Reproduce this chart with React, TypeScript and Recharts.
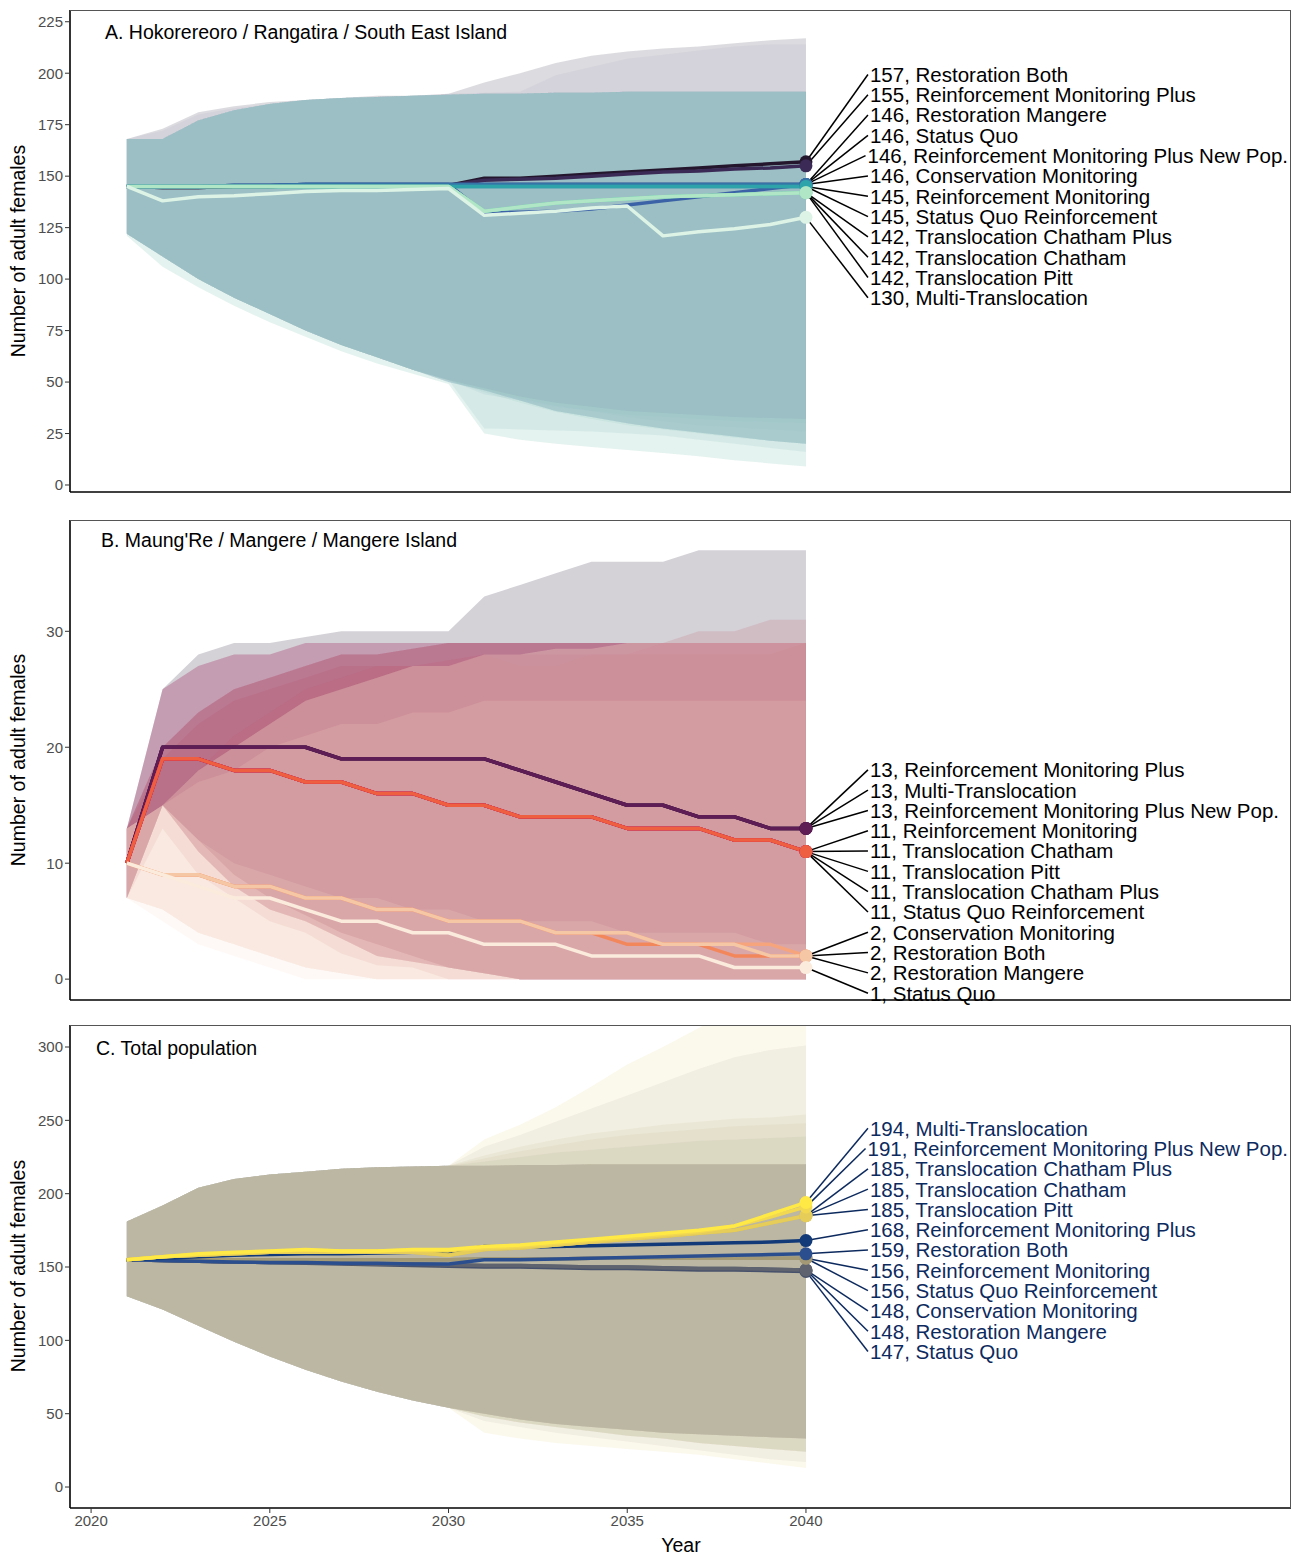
import React from 'react'
import { ComposedChart, Area, Line, XAxis, YAxis, ReferenceDot, ReferenceLine } from 'recharts'

const FONT = '"Liberation Sans", Arial, Helvetica, sans-serif'

const YEARS = [2021, 2022, 2023, 2024, 2025, 2026, 2027, 2028, 2029, 2030, 2031, 2032, 2033, 2034, 2035, 2036, 2037, 2038, 2039, 2040]
const X_TICKS = [2020, 2025, 2030, 2035, 2040]

// ---- A. Hokorereoro / Rangatira / South East Island ----
const aRbMed = [145, 144.5, 144.5, 145, 145, 145.5, 145.5, 145.5, 145.5, 145.5, 149, 149, 150, 151, 152, 153, 154, 155, 156, 157]
const aRmpMed = [145, 144.5, 144.5, 145, 145, 145.5, 145.5, 145.5, 145.5, 145.5, 148, 148.5, 149, 150, 151, 152, 152.5, 153.5, 154, 155]
const aFlat146Med = [145, 145, 145, 145.5, 145.5, 146, 146, 146, 146, 146, 146, 146, 146, 146, 146, 146, 146, 146, 146, 146]
const aRmpnpMed = [145, 145, 145, 145.5, 145.5, 146, 146, 146, 146, 146, 132, 132.5, 133, 134, 136, 138, 140, 142, 144, 146]
const aFlat145Med = [145, 145, 145, 145, 145, 145, 145, 145, 145, 145, 145, 145, 145, 145, 145, 145, 145, 145, 145, 145]
const aTransMed = [145, 145, 145, 145, 145, 145, 145, 145, 145, 145, 133, 135, 137, 138, 139, 140, 140.5, 141, 141.5, 142]
const aMtMed = [145, 138, 140, 140.5, 141.5, 142.5, 143, 143, 143.5, 144, 131, 132, 133, 134.5, 135.5, 121, 123, 124.5, 126.5, 130]

const aBaseHi = [168, 168, 177, 182, 185, 187, 188, 188.5, 189, 189.5, 190, 190, 190.5, 190.5, 191, 191, 191, 191, 191, 191]
const aRbHi = [168, 173, 181, 184, 186, 187, 188, 189, 189, 190, 195.5, 200, 205, 208.5, 210.5, 212, 213, 214.5, 216, 217]
const aRmpHi = [168, 172, 180, 183, 185, 187, 188, 188.5, 189, 190, 190.5, 191, 199, 203, 207, 209, 211, 213, 214, 214]
const aPlusLo = [122, 111, 100, 91, 83, 75, 68, 62, 56, 51, 47, 43, 40, 38, 36, 35, 34, 33, 32.5, 32]
const aBaseLo = [122, 111, 100, 91, 83, 75, 68, 62, 56, 50, 46, 41, 36, 33, 30, 27.5, 25.5, 23.5, 21.5, 20]
const aMtLo = [121, 106, 96, 87, 79, 72, 65, 59, 54, 49, 25, 22, 20, 18.5, 17, 15.5, 14, 12, 10.5, 9]
const aTcpLo = [122, 111, 100, 91, 83, 75, 68, 62, 56, 51, 27.5, 27, 26.5, 26, 25, 24, 22, 20, 18, 16]
const aTcLo = [122, 111, 100, 91, 83, 75, 68, 62, 56, 51, 45, 40, 35.5, 32, 29, 27, 25, 23, 21.5, 20]
const aTpLo = [122, 111, 100, 91, 83, 75, 68, 62, 56, 51, 46, 42, 38.5, 36, 33, 31, 29, 28, 27, 26]
const aRmpnpLo = [122, 111, 100, 91, 83, 75, 68, 62, 56, 51, 44, 41, 38, 36, 34, 33, 32, 31, 30.5, 30]

// ---- B. Maung'Re / Mangere / Mangere Island ----
const bMed13 = [10, 20, 20, 20, 20, 20, 19, 19, 19, 19, 19, 18, 17, 16, 15, 15, 14, 14, 13, 13]
const bMed11 = [10, 19, 19, 18, 18, 17, 17, 16, 16, 15, 15, 14, 14, 14, 13, 13, 13, 12, 12, 11]
const bCmMed = [10, 9, 9, 8, 8, 7, 7, 6, 6, 5, 5, 5, 4, 4, 3, 3, 3, 2, 2, 2]
const bRbMed = [10, 9, 9, 8, 8, 7, 7, 6, 6, 5, 5, 5, 4, 4, 4, 3, 3, 3, 3, 2]
const bRmanMed = [10, 9, 9, 8, 8, 7, 7, 6, 6, 5, 5, 5, 4, 4, 4, 3, 3, 3, 2, 2]
const bSqMed = [10, 9, 8, 7, 7, 6, 5, 5, 4, 4, 3, 3, 3, 2, 2, 2, 2, 1, 1, 1]

const bRmpHi = [13, 25, 28, 29, 29, 29.5, 30, 30, 30, 30, 33, 34, 35, 36, 36, 36, 37, 37, 37, 37]
const b13Hi = [13, 25, 27, 28, 28, 29, 29, 29, 29, 29, 29, 29, 29, 29, 29, 29, 29, 29, 29, 29]
const b11Hi = [13, 20, 23, 25, 26, 27, 28, 28, 28.5, 29, 29, 29, 29, 29, 29, 29, 29, 29, 29, 29]
const bTcpHi = [13, 15, 18, 21, 23, 25, 26, 27, 27, 27.5, 28, 27, 27, 28, 28, 29, 30, 30, 31, 31]
const bTpHi = [13, 19, 22, 24, 25, 26, 27, 27, 27, 27, 28, 28, 28, 28, 28, 28, 28, 28, 28, 29]
const b2Hi = [13, 15, 17, 18, 20, 21, 22, 22, 23, 23, 24, 24, 24, 24, 24, 24, 24, 24, 24, 24]
const b2HighHi = [13, 15, 18, 20, 22, 24, 25, 26, 27, 27, 28, 28, 28.5, 28.5, 29, 29, 29, 29, 29, 29]
const bSqHi = [13, 15, 12, 10, 9, 8, 7, 7, 6, 6, 5, 5, 5, 5, 4, 4, 4, 4, 3, 3]
const b13Lo = [7, 15, 12, 9, 7, 5.5, 4, 3, 2, 1, 0.5, 0, 0, 0, 0, 0, 0, 0, 0, 0]
const b11Lo = [7, 15, 11, 8, 6, 5, 3.5, 2, 1.5, 1, 0.5, 0, 0, 0, 0, 0, 0, 0, 0, 0]
const bTcpLo = [7, 13, 9, 7, 5, 4, 2.2, 1.2, 1, 0, 0, 0, 0, 0, 0, 0, 0, 0, 0, 0]
const b2Lo = [7, 6, 4, 3, 2, 1, 0.5, 0, 0, 0, 0, 0, 0, 0, 0, 0, 0, 0, 0, 0]
const bSqLo = [7, 5, 3, 2, 1, 0, 0, 0, 0, 0, 0, 0, 0, 0, 0, 0, 0, 0, 0, 0]

// ---- C. Total population ----
const cMtMed = [155, 157, 159, 160, 161, 162, 161, 161, 162, 162, 164, 165, 167, 169, 171, 173, 175, 178, 186, 194]
const cRmpnpMed = [155, 157, 158.5, 159.5, 160.5, 161.5, 161, 161, 161.5, 161, 163, 164, 166, 168, 170, 172, 174, 178, 184, 191]
const cTransMed = [155, 157, 158, 159, 160, 160, 160, 160, 160, 158, 162, 163, 165, 167, 169, 171, 173, 175, 180, 185]
const cRmpMed = [155, 156, 157, 158, 158.5, 159, 159, 159.5, 160, 160, 164, 163.5, 164, 164.5, 165, 165.5, 166, 166.5, 167, 168]
const cRbMed = [155, 154.5, 154, 153.5, 153, 153, 152.5, 152.5, 152, 152, 155, 155, 155.5, 156, 156.5, 157, 157.5, 158, 158.5, 159]
const cFlat156Med = [155, 155, 155, 155, 155, 155, 155, 155, 155, 155, 155.5, 155.5, 155.5, 156, 156, 156, 156, 156, 156, 156]
const cDecline148Med = [155, 154.5, 154, 153.5, 153, 153, 152.5, 152, 152, 151.5, 151, 151, 150.5, 150, 150, 149.5, 149, 149, 148.5, 148]
const cSqMed = [155, 154.5, 154, 153.5, 153, 152.5, 152, 151.5, 151, 150.5, 150, 150, 149.5, 149, 149, 148.5, 148, 148, 147.5, 147]

const cBaseHi = [181, 192, 204, 210, 213, 215, 217, 218, 218.5, 219, 219, 219.5, 219.5, 220, 220, 220, 220, 220, 220, 220]
const cBaseLo = [130, 121, 110, 99, 89, 80, 72, 65, 59, 54, 50, 46, 43, 41, 39, 37, 36, 35, 34, 33]
const cMtHi = [181, 192, 204, 210, 213, 215, 217, 218, 218.5, 219, 237, 247, 259, 273, 288, 300, 313, 327, 340, 352]
const cRmpnpHi = [181, 192, 204, 210, 213, 215, 217, 218, 218.5, 219, 232, 240, 249, 258, 267, 276, 285, 293, 298, 301]
const cTcpHi = [181, 192, 204, 210, 213, 215, 217, 218, 218.5, 219, 226, 232, 237, 241, 244, 247, 249, 251, 252, 254]
const cTcHi = [181, 192, 204, 210, 213, 215, 217, 218, 218.5, 219, 224, 229, 233, 237, 240, 242, 244, 246, 247, 248]
const cTpHi = [181, 192, 204, 210, 213, 215, 217, 218, 218.5, 219, 222, 225, 228, 230, 232, 234, 236, 237, 238, 239]
const cMtLo = [130, 121, 110, 99, 89, 80, 72, 65, 59, 54, 37, 33, 30, 28, 26, 24, 22, 19, 16, 13]
const cRmpnpLo = [130, 121, 110, 99, 89, 80, 72, 65, 59, 54, 45, 41, 37, 34, 31, 28, 25, 22, 19, 17]
const cTransLo = [130, 121, 110, 99, 89, 80, 72, 65, 59, 54, 48, 44, 41, 38, 35, 33, 30, 28, 26, 24]

type Scenario = { name: string; med: number[]; lo: number[]; hi: number[] }

// scenarios listed in the order their labels appear, top to bottom
const panelA: Scenario[] = [
  { name: 'Restoration Both', med: aRbMed, lo: aPlusLo, hi: aRbHi },
  { name: 'Reinforcement Monitoring Plus', med: aRmpMed, lo: aPlusLo, hi: aRmpHi },
  { name: 'Restoration Mangere', med: aFlat146Med, lo: aBaseLo, hi: aBaseHi },
  { name: 'Status Quo', med: aFlat146Med, lo: aBaseLo, hi: aBaseHi },
  { name: 'Reinforcement Monitoring Plus New Pop.', med: aRmpnpMed, lo: aRmpnpLo, hi: aBaseHi },
  { name: 'Conservation Monitoring', med: aFlat146Med, lo: aBaseLo, hi: aBaseHi },
  { name: 'Reinforcement Monitoring', med: aFlat145Med, lo: aBaseLo, hi: aBaseHi },
  { name: 'Status Quo Reinforcement', med: aFlat145Med, lo: aBaseLo, hi: aBaseHi },
  { name: 'Translocation Chatham Plus', med: aTransMed, lo: aTcpLo, hi: aBaseHi },
  { name: 'Translocation Chatham', med: aTransMed, lo: aTcLo, hi: aBaseHi },
  { name: 'Translocation Pitt', med: aTransMed, lo: aTpLo, hi: aBaseHi },
  { name: 'Multi-Translocation', med: aMtMed, lo: aMtLo, hi: aBaseHi },
]
const panelAColors = ['#24172D', '#3A2A55', '#3F4A8A', '#3C5A98', '#3B62A6', '#3574A6', '#3487A6', '#2FA3AA', '#5CC7AE', '#8ED8B4', '#B0E6C6', '#DDF3E6']
const panelAFills = ['#241E37', '#ACABC4', '#A2B3D0', '#9EB6D0', '#9AB9D0', '#9DBCD0', '#A0BECE', '#A2C0CC', '#96C0C8', '#A0C4C9', '#AAC8CA', '#56B49A']

const panelB: Scenario[] = [
  { name: 'Reinforcement Monitoring Plus', med: bMed13, lo: b13Lo, hi: bRmpHi },
  { name: 'Multi-Translocation', med: bMed13, lo: b13Lo, hi: b13Hi },
  { name: 'Reinforcement Monitoring Plus New Pop.', med: bMed13, lo: b13Lo, hi: b13Hi },
  { name: 'Reinforcement Monitoring', med: bMed11, lo: b11Lo, hi: b11Hi },
  { name: 'Translocation Chatham', med: bMed11, lo: b11Lo, hi: b11Hi },
  { name: 'Translocation Pitt', med: bMed11, lo: b11Lo, hi: bTpHi },
  { name: 'Translocation Chatham Plus', med: bMed11, lo: bTcpLo, hi: bTcpHi },
  { name: 'Status Quo Reinforcement', med: bMed11, lo: b11Lo, hi: b11Hi },
  { name: 'Conservation Monitoring', med: bCmMed, lo: b2Lo, hi: b2Hi },
  { name: 'Restoration Both', med: bRbMed, lo: b2Lo, hi: b2HighHi },
  { name: 'Restoration Mangere', med: bRmanMed, lo: b2Lo, hi: b2HighHi },
  { name: 'Status Quo', med: bSqMed, lo: bSqLo, hi: bSqHi },
]
const panelBColors = ['#1F0D2E', '#4A1650', '#5E1D54', '#8A1D5B', '#B3195A', '#CE2350', '#E0344A', '#EE5E40', '#F3875C', '#F6A47C', '#F6C7A4', '#FAEBDD']
const panelBFills = ['#100424', '#A8346C', '#A8346C', '#B0506A', '#B0506A', '#B4546A', '#C0606E', '#B0506A', '#F2D0C0', '#F6DAC6', '#F6DAC6', '#F8E0CC']

const panelC: Scenario[] = [
  { name: 'Multi-Translocation', med: cMtMed, lo: cMtLo, hi: cMtHi },
  { name: 'Reinforcement Monitoring Plus New Pop.', med: cRmpnpMed, lo: cRmpnpLo, hi: cRmpnpHi },
  { name: 'Translocation Chatham Plus', med: cTransMed, lo: cTransLo, hi: cTcpHi },
  { name: 'Translocation Chatham', med: cTransMed, lo: cTransLo, hi: cTcHi },
  { name: 'Translocation Pitt', med: cTransMed, lo: cTransLo, hi: cTpHi },
  { name: 'Reinforcement Monitoring Plus', med: cRmpMed, lo: cBaseLo, hi: cBaseHi },
  { name: 'Restoration Both', med: cRbMed, lo: cBaseLo, hi: cBaseHi },
  { name: 'Reinforcement Monitoring', med: cFlat156Med, lo: cBaseLo, hi: cBaseHi },
  { name: 'Status Quo Reinforcement', med: cFlat156Med, lo: cBaseLo, hi: cBaseHi },
  { name: 'Conservation Monitoring', med: cDecline148Med, lo: cBaseLo, hi: cBaseHi },
  { name: 'Restoration Mangere', med: cDecline148Med, lo: cBaseLo, hi: cBaseHi },
  { name: 'Status Quo', med: cSqMed, lo: cBaseLo, hi: cBaseHi },
]
const panelCColors = ['#FFE945', '#F2D850', '#E6CD5A', '#D8C262', '#C9B768', '#123A78', '#2B4F8E', '#A39A75', '#8E8877', '#5E636F', '#535B6E', '#47516B']
const panelCFills = ['#E6D68A', '#BDBAB4', '#C8C29E', '#B8B49C', '#A8A698', '#8A8C92', '#8E9096', '#A8A490', '#A09E92', '#8C8C8C', '#888A8C', '#84888A']

// layout
const CHART_W = 1299
const MARGIN_LEFT = 30
const Y_AXIS_W = 40
const MARGIN_RIGHT = 8
const PLOT_LEFT = MARGIN_LEFT + Y_AXIS_W
const PLOT_W = CHART_W - PLOT_LEFT - MARGIN_RIGHT
const X_MIN = 2019.41
const X_MAX = 2053.57
const LABEL_SIZE = 20.5
const LABEL_GAP = 20.3
const LABEL_NUDGE = 64

let measureCtx: CanvasRenderingContext2D | null = null
function textWidth(text: string, size: number) {
  if (!measureCtx) measureCtx = document.createElement('canvas').getContext('2d')
  if (!measureCtx) return text.length * size * 0.5
  measureCtx.font = `${size}px ${FONT}`
  return measureCtx.measureText(text).width
}

interface PanelProps {
  scenarios: Scenario[]
  colors: string[]
  fills: string[]
  alpha: number
  yDomain: [number, number]
  yTicks: number[]
  top: number
  height: number
  marginTop: number
  xAxisHeight: number
  showXLabels: boolean
  labelColor: string
  reverseDraw?: boolean
}

function Panel({ scenarios, colors, fills, alpha, yDomain, yTicks, top, height, marginTop, xAxisHeight, showXLabels, labelColor, reverseDraw }: PanelProps) {
  const plotH = height - marginTop - xAxisHeight
  const pxPerYear = PLOT_W / (X_MAX - X_MIN)
  const pxPerUnit = plotH / (yDomain[1] - yDomain[0])
  const lastYear = YEARS[YEARS.length - 1]

  const rows = YEARS.map((year, i) => {
    const row: Record<string, unknown> = { year }
    scenarios.forEach((s, j) => {
      row['m' + j] = s.med[i]
      row['b' + j] = [s.lo[i], s.hi[i]]
    })
    return row
  })

  const finals = scenarios.map((s) => s.med[s.med.length - 1])
  const center = finals.reduce((a, b) => a + b, 0) / finals.length
  const gap = LABEL_GAP / pxPerUnit
  const labels = scenarios.map((s, i) => {
    const text = `${finals[i]}, ${s.name}`
    const w = textWidth(text, LABEL_SIZE)
    const x = Math.min(lastYear + LABEL_NUDGE / pxPerYear, X_MAX - (w + 3) / pxPerYear)
    const y = center + ((scenarios.length - 1) / 2 - i) * gap
    return { text, x, y, lineEnd: x - 2 / pxPerYear }
  })

  const order = scenarios.map((_, i) => i)
  if (reverseDraw) order.reverse()

  return (
    <div style={{ position: 'absolute', left: 0, top, width: CHART_W, height }}>
      <ComposedChart
        width={CHART_W}
        height={height}
        data={rows}
        margin={{ top: marginTop, right: MARGIN_RIGHT, bottom: 0, left: MARGIN_LEFT }}
        style={{ fontFamily: FONT }}
      >
        <XAxis
          dataKey="year"
          type="number"
          domain={[X_MIN, X_MAX]}
          ticks={X_TICKS}
          allowDataOverflow
          interval={0}
          height={xAxisHeight}
          tickSize={5}
          tickLine={{ stroke: '#333' }}
          axisLine={{ stroke: '#000', strokeWidth: 1.6 }}
          tick={showXLabels ? { fontSize: 15, fill: '#4D4D4D' } : false}
        />
        <YAxis
          type="number"
          domain={yDomain}
          ticks={yTicks}
          allowDataOverflow
          interval={0}
          width={Y_AXIS_W}
          tickSize={5}
          tickLine={{ stroke: '#333' }}
          axisLine={{ stroke: '#000', strokeWidth: 1.6 }}
          tick={{ fontSize: 15, fill: '#4D4D4D' }}
        />
        {order.map((j) => (
          <Area
            key={'b' + j}
            type="linear"
            dataKey={'b' + j}
            stroke="none"
            fill={fills[j]}
            fillOpacity={alpha}
            isAnimationActive={false}
            dot={false}
            activeDot={false}
          />
        ))}
        {order.map((j) => (
          <Line
            key={'m' + j}
            type="linear"
            dataKey={'m' + j}
            stroke={colors[j]}
            strokeWidth={3.5}
            strokeLinejoin="round"
            dot={false}
            activeDot={false}
            isAnimationActive={false}
          />
        ))}
        {order.map((j) => (
          <ReferenceDot key={'d' + j} x={lastYear} y={finals[j]} r={6.5} fill={colors[j]} stroke="none" ifOverflow="visible" />
        ))}
        {labels.map((l, i) => (
          <ReferenceLine
            key={'s' + i}
            segment={[{ x: lastYear, y: finals[i] }, { x: l.lineEnd, y: l.y }]}
            stroke={labelColor}
            strokeWidth={1.5}
            ifOverflow="visible"
          />
        ))}
        {labels.map((l, i) => (
          <ReferenceDot
            key={'t' + i}
            x={l.x}
            y={l.y}
            r={0}
            ifOverflow="visible"
            shape={(p: { cx?: number; cy?: number }) => (
              <text x={p.cx} y={p.cy} dy="0.36em" fontSize={LABEL_SIZE} fill={labelColor} fontFamily={FONT}>
                {l.text}
              </text>
            )}
          />
        ))}
      </ComposedChart>
      <div
        style={{
          position: 'absolute',
          left: PLOT_LEFT,
          top: marginTop,
          width: PLOT_W,
          height: plotH,
          borderTop: '1px solid #555',
          borderRight: '1px solid #555',
          boxSizing: 'border-box',
          pointerEvents: 'none',
        }}
      />
    </div>
  )
}

function Title({ text, left, cy }: { text: string; left: number; cy: number }) {
  return (
    <div style={{ position: 'absolute', left, top: cy - 11, height: 22, lineHeight: '22px', fontSize: 19.5, color: '#000', whiteSpace: 'nowrap' }}>
      {text}
    </div>
  )
}

function YTitle({ cy }: { cy: number }) {
  return (
    <div
      style={{
        position: 'absolute',
        left: 18 - 150,
        top: cy - 11,
        width: 300,
        height: 22,
        lineHeight: '22px',
        textAlign: 'center',
        fontSize: 19.5,
        color: '#000',
        transform: 'rotate(-90deg)',
        whiteSpace: 'nowrap',
      }}
    >
      Number of adult females
    </div>
  )
}

export default function App() {
  return (
    <div style={{ position: 'absolute', left: 0, top: 0, width: 1299, height: 1555, background: '#fff', fontFamily: FONT }}>
      <Panel
        scenarios={panelA}
        colors={panelAColors}
        fills={panelAFills}
        alpha={0.16}
        yDomain={[-3.4, 230.7]}
        yTicks={[0, 25, 50, 75, 100, 125, 150, 175, 200, 225]}
        top={0}
        height={505}
        marginTop={10}
        xAxisHeight={13}
        showXLabels={false}
        labelColor="#000"
      />
      <Panel
        scenarios={panelB}
        colors={panelBColors}
        fills={panelBFills}
        alpha={0.18}
        yDomain={[-1.8, 39.6]}
        yTicks={[0, 10, 20, 30]}
        top={505}
        height={508}
        marginTop={15}
        xAxisHeight={13}
        showXLabels={false}
        labelColor="#000"
      />
      <Panel
        scenarios={panelC}
        colors={panelCColors}
        fills={panelCFills}
        alpha={0.16}
        yDomain={[-14.3, 315]}
        yTicks={[0, 50, 100, 150, 200, 250, 300]}
        top={1013}
        height={540}
        marginTop={12}
        xAxisHeight={45}
        showXLabels={true}
        labelColor="#0D2A5E"
        reverseDraw
      />
      <Title text="A. Hokorereoro / Rangatira / South East Island" left={105} cy={32} />
      <Title text="B. Maung'Re / Mangere / Mangere Island" left={101} cy={540} />
      <Title text="C. Total population" left={96} cy={1048} />
      <YTitle cy={251} />
      <YTitle cy={760} />
      <YTitle cy={1266} />
      <div style={{ position: 'absolute', left: 581, top: 1534, width: 200, textAlign: 'center', fontSize: 19.5, lineHeight: '22px', color: '#000' }}>
        Year
      </div>
    </div>
  )
}
